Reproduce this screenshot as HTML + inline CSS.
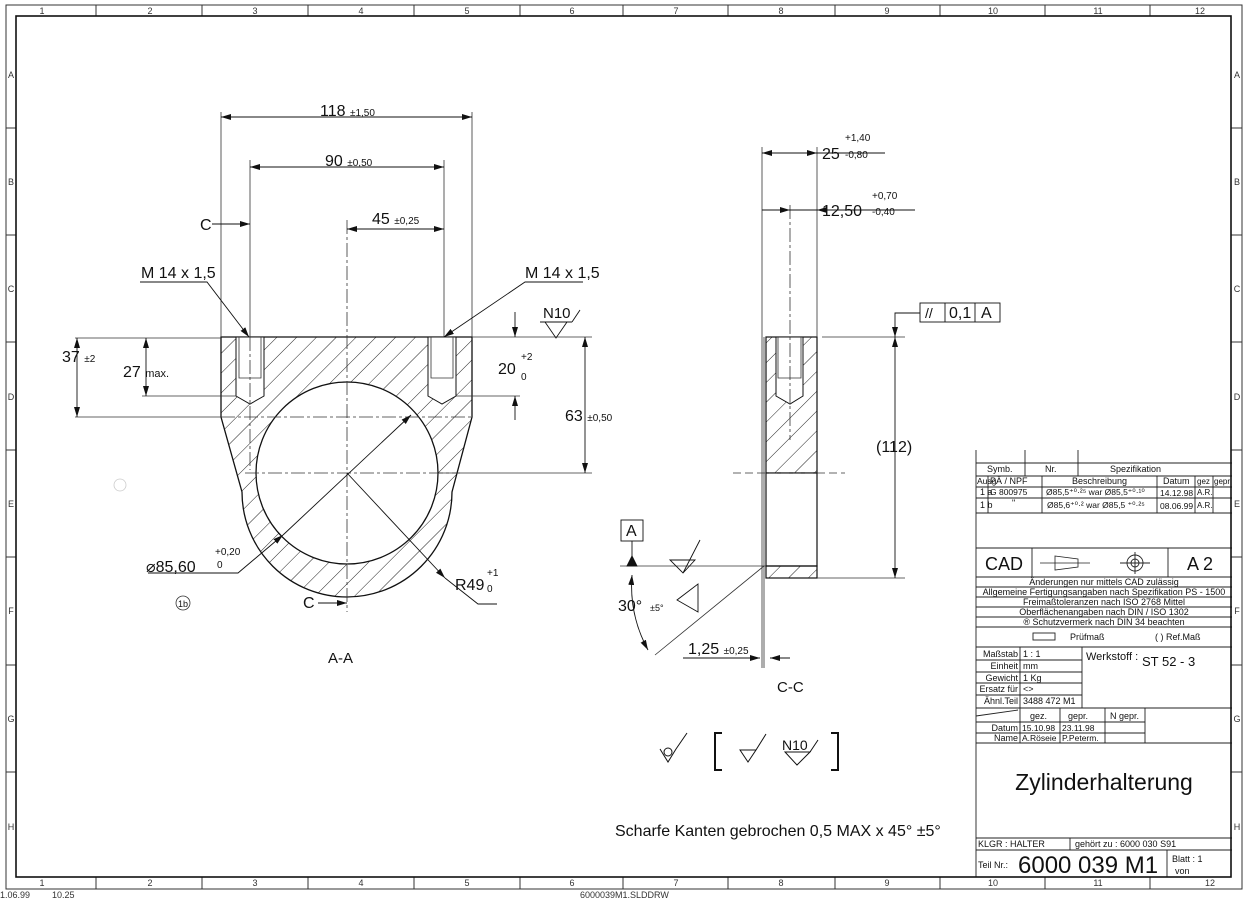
<!DOCTYPE html>
<html><head><meta charset="utf-8"><style>
html,body{margin:0;padding:0;background:#fff;}
svg{display:block;font-family:"Liberation Sans","DejaVu Sans",sans-serif;}
</style></head><body>
<svg width="1250" height="901" viewBox="0 0 1250 901" xmlns="http://www.w3.org/2000/svg">
<defs>
<pattern id="h" patternUnits="userSpaceOnUse" width="14" height="14" patternTransform="rotate(45)">
<line x1="0" y1="0" x2="0" y2="14" stroke="#222" stroke-width="1"/>
</pattern>
<marker id="a" markerWidth="10" markerHeight="6" refX="10" refY="3" orient="auto-start-reverse" markerUnits="userSpaceOnUse"><path d="M0,0 L10,3 L0,6z" fill="#111"/></marker>
</defs>
<g fill="none" stroke="#333" stroke-width="1">
<rect x="6" y="5" width="1236" height="884"/>
<path d="M96 5V16M202 5V16M308 5V16M414 5V16M520 5V16M623 5V16M728 5V16M835 5V16M940 5V16M1045 5V16M1150 5V16"/>
<path d="M96 877V889M202 877V889M308 877V889M414 877V889M520 877V889M623 877V889M728 877V889M835 877V889M940 877V889M1045 877V889M1150 877V889"/>
<path d="M6 128H16M6 235H16M6 342H16M6 450H16M6 557H16M6 665H16M6 772H16"/>
<path d="M1231 128H1242M1231 235H1242M1231 342H1242M1231 450H1242M1231 557H1242M1231 665H1242M1231 772H1242"/>
</g>
<g font-size="9" fill="#333" text-anchor="middle">
<text x="42" y="14">1</text><text x="150" y="14">2</text><text x="255" y="14">3</text><text x="361" y="14">4</text><text x="467" y="14">5</text><text x="572" y="14">6</text><text x="676" y="14">7</text><text x="781" y="14">8</text><text x="887" y="14">9</text><text x="993" y="14">10</text><text x="1098" y="14">11</text><text x="1200" y="14">12</text>
<text x="42" y="886">1</text><text x="150" y="886">2</text><text x="255" y="886">3</text><text x="361" y="886">4</text><text x="467" y="886">5</text><text x="572" y="886">6</text><text x="676" y="886">7</text><text x="781" y="886">8</text><text x="887" y="886">9</text><text x="993" y="886">10</text><text x="1098" y="886">11</text><text x="1210" y="886">12</text>
<text x="11" y="78">A</text><text x="11" y="185">B</text><text x="11" y="292">C</text><text x="11" y="400">D</text><text x="11" y="507">E</text><text x="11" y="614">F</text><text x="11" y="722">G</text><text x="11" y="830">H</text>
<text x="1237" y="78">A</text><text x="1237" y="185">B</text><text x="1237" y="292">C</text><text x="1237" y="400">D</text><text x="1237" y="507">E</text><text x="1237" y="614">F</text><text x="1237" y="722">G</text><text x="1237" y="830">H</text>
</g>
<text x="0" y="898" font-size="9" fill="#333">1.06.99</text><text x="52" y="898" font-size="9" fill="#333">10.25</text>
<text x="580" y="898" font-size="9" fill="#333">6000039M1.SLDDRW</text>

<!-- A-A view -->
<path d="M221 337 H472 V417 L452 492 A105 105 0 0 1 242 492 L221 417 Z" fill="url(#h)" stroke="#111" stroke-width="1.3"/>
<circle cx="347" cy="473" r="91" fill="#fff" stroke="#111" stroke-width="1.3"/>
<g fill="#fff" stroke="#111" stroke-width="1">
<path d="M236 337 V396 L250 404 L264 396 V337 Z"/>
<path d="M428 337 V396 L442 404 L456 396 V337 Z"/>
</g>
<g stroke="#333" stroke-width="0.8" fill="none">
<path d="M239 337V378H261V337M431 337V378H453V337"/>
<path d="M347 220V612" stroke-dasharray="14 3 3 3"/>
<path d="M245 473H460" stroke-dasharray="14 3 3 3"/>
<path d="M221 417H472" stroke-dasharray="14 3 3 3"/>
<path d="M250 337V470" stroke-dasharray="14 3 3 3"/>
<path d="M221 112V337M472 112V337M250 160V337M444 160V337"/>
<path d="M75 338H221M75 417H221M142 396H236M437 473H592M472 337H592M456 396H520"/>
</g>
<g stroke="#111" stroke-width="0.9" fill="none">
<path d="M221 117H472" marker-start="url(#a)" marker-end="url(#a)"/>
<path d="M250 167H444" marker-start="url(#a)" marker-end="url(#a)"/>
<path d="M347 229H444" marker-start="url(#a)" marker-end="url(#a)"/>
<path d="M212 224H250" marker-end="url(#a)"/>
<path d="M77 338V417" marker-start="url(#a)" marker-end="url(#a)"/>
<path d="M146 338V396" marker-start="url(#a)" marker-end="url(#a)"/>
<path d="M585 337V473" marker-start="url(#a)" marker-end="url(#a)"/>
<path d="M515 312V337" marker-end="url(#a)"/>
<path d="M515 420V396" marker-end="url(#a)"/>
<path d="M140 282H207L249 337" marker-end="url(#a)"/>
<path d="M583 282H525L444 337" marker-end="url(#a)"/>
<path d="M148 573H238L283 535" marker-end="url(#a)"/>
<path d="M283 535L411 415" marker-end="url(#a)"/>
<path d="M347 473L445 578" marker-end="url(#a)"/>
<path d="M445 578L478 604H497"/>
<path d="M318 603H347" marker-end="url(#a)"/>
<path d="M540 322H572M572 322L580 310M545 322L556 338L567 322"/>
</g>
<g fill="#111" font-size="16">
<text x="320" y="116">118 <tspan font-size="10">±1,50</tspan></text>
<text x="325" y="166">90 <tspan font-size="10">±0,50</tspan></text>
<text x="372" y="224">45 <tspan font-size="10">±0,25</tspan></text>
<text x="200" y="230">C</text>
<text x="141" y="278">M 14 x 1,5</text>
<text x="525" y="278">M 14 x 1,5</text>
<text x="543" y="318" font-size="15">N10</text>
<text x="62" y="362">37 <tspan font-size="10">±2</tspan></text>
<text x="123" y="377">27 <tspan font-size="11">max.</tspan></text>
<text x="498" y="374">20</text><text x="521" y="360" font-size="10">+2</text><text x="521" y="380" font-size="10">0</text>
<text x="565" y="421">63 <tspan font-size="10">±0,50</tspan></text>
<text x="146" y="572">⌀85,60</text><text x="215" y="555" font-size="10">+0,20</text><text x="217" y="568" font-size="10">0</text>
<text x="455" y="590">R49</text><text x="487" y="576" font-size="10">+1</text><text x="487" y="592" font-size="10">0</text>
<text x="303" y="608">C</text>
<text x="328" y="663" font-size="15">A-A</text>
</g>
<circle cx="183" cy="603" r="7" fill="none" stroke="#333" stroke-width="0.8"/>
<text x="183" y="607" font-size="9" text-anchor="middle" fill="#111">1b</text>
<circle cx="120" cy="485" r="6" fill="none" stroke="#ccc" stroke-width="0.8"/>

<!-- C-C view -->
<rect x="766" y="337" width="51" height="136" fill="url(#h)" stroke="#111" stroke-width="1.2"/>
<rect x="766" y="473" width="51" height="93" fill="#fff" stroke="#111" stroke-width="1.2"/>
<rect x="766" y="566" width="51" height="12" fill="url(#h)" stroke="#111" stroke-width="1.2"/>
<path d="M776 337V396L790 404L803 396V337Z" fill="#fff" stroke="#111"/>
<g stroke="#333" stroke-width="0.8" fill="none">
<path d="M778 337V378H801V337"/>
<path d="M790 205V440" stroke-dasharray="14 3 3 3"/>
<path d="M733 473H845" stroke-dasharray="8 4"/>
<path d="M762 147V668M817 147V337M764 337V668M822 337H905M817 578H905"/>
<path d="M620 566H766M764 566L655 655"/>
</g>
<g stroke="#111" stroke-width="0.9" fill="none">
<path d="M762 153H817" marker-start="url(#a)" marker-end="url(#a)"/><path d="M817 153H885"/>
<path d="M762 210H790" marker-end="url(#a)"/><path d="M790 210H915" /><path d="M830 210H817" marker-end="url(#a)"/>
<path d="M895 337V578" marker-start="url(#a)" marker-end="url(#a)"/>
<path d="M920 313H895V337" marker-end="url(#a)"/>
<rect x="920" y="303" width="80" height="19"/><path d="M945 303V322M975 303V322"/>
<rect x="621" y="520" width="22" height="21"/>
<path d="M632 541V566"/><path d="M627 566L632 556L637 566Z" fill="#111"/>
<path d="M632 575A135 135 0 0 0 648 650" marker-start="url(#a)" marker-end="url(#a)"/>
<path d="M683 658H760" marker-end="url(#a)"/><path d="M790 658H770" marker-end="url(#a)"/>
<path d="M670 560H695L683 573ZM683 573L700 540"/>
<path d="M698 584V612L677 600Z"/>
</g>
<g fill="#111" font-size="16">
<text x="822" y="159">25</text><text x="845" y="141" font-size="10">+1,40</text><text x="845" y="158" font-size="10">-0,80</text>
<text x="822" y="216">12,50</text><text x="872" y="199" font-size="10">+0,70</text><text x="872" y="215" font-size="10">-0,40</text>
<text x="876" y="452">(112)</text>
<text x="925" y="318" font-size="14">//</text><text x="949" y="318">0,1</text><text x="981" y="318">A</text>
<text x="626" y="536">A</text>
<text x="618" y="611">30°</text><text x="650" y="611" font-size="9">±5°</text>
<text x="688" y="654">1,25 <tspan font-size="10">±0,25</tspan></text>
<text x="777" y="692" font-size="15">C-C</text>
</g>

<!-- symbols bottom -->
<g stroke="#111" stroke-width="1" fill="none">
<path d="M660 749L668 762L676 749M676 749L687 733"/><circle cx="668" cy="752" r="4"/>
<path d="M722 733H715V770H722" stroke-width="2"/>
<path d="M740 750L748 762L756 750ZM756 750L766 734"/>
<path d="M785 752H810L797 765ZM810 752L818 740"/>
<path d="M831 733H838V770H831" stroke-width="2"/>
</g>
<text x="782" y="750" font-size="14" fill="#111">N10</text>
<text x="615" y="836" font-size="16" fill="#111">Scharfe Kanten gebrochen 0,5 MAX x 45° ±5°</text>

<!-- title block -->
<rect x="976" y="463" width="255" height="414" fill="#fff" stroke="none"/>
<g stroke="#222" stroke-width="0.9" fill="none">
<path d="M976 450V877M1025 450V476M1078 450V476"/>
<path d="M976 463H1232M976 476H1232M976 487H1232M976 498H1232M976 513H1232M976 548H1232M976 577H1232M976 587H1232M976 597H1232M976 607H1232M976 617H1232M976 627H1232M976 647H1232M976 708H1232M976 743H1232M976 838H1232M976 850H1232"/>
<path d="M976 660H1082M976 672H1082M976 683H1082M976 695H1082M976 722H1145M976 733H1145"/>
<path d="M988 476V513M1042 476V513M1157 476V513M1195 476V513M1213 476V513"/>
<path d="M1032 548V577M1168 548V577M1020 647V708M1082 647V708M1020 708V743M1060 708V743M1105 708V743M1145 708V743M1070 838V850M1167 850V877M976 716L1018 710"/>
<path d="M1040 563H1090M1055 556L1078 559V567L1055 570Z M1060 563H1075" stroke-width="0.8"/>
<circle cx="1135" cy="563" r="8"/><circle cx="1135" cy="563" r="4"/><path d="M1120 563H1150M1135 552V574"/>
<rect x="1033" y="633" width="22" height="7"/>
</g>
<rect x="16" y="16" width="1215" height="861" fill="none" stroke-width="1.6" stroke="#111"/>
<g fill="#111" font-size="9">
<text x="987" y="472">Symb.</text><text x="1045" y="472">Nr.</text><text x="1110" y="472">Spezifikation</text>
<text x="977" y="484" font-size="8.5">Ausg</text><text x="990" y="484">PÄ / NPF</text><text x="1072" y="484">Beschreibung</text><text x="1163" y="484">Datum</text><text x="1197" y="484" font-size="8">gez</text><text x="1214" y="484" font-size="8">gepr</text>
<text x="980" y="495">1 a</text><text x="990" y="495" font-size="8.5">G 800975</text><text x="1046" y="495" font-size="8.5">Ø85,5⁺⁰·²⁵ war Ø85,5⁺⁰·¹⁰</text><text x="1160" y="496" font-size="8.5">14.12.98</text><text x="1197" y="495" font-size="8">A.R.</text>
<text x="980" y="508">1 b</text><text x="1012" y="506">"</text><text x="1047" y="508" font-size="8.5">Ø85,6⁺⁰·² war Ø85,5 ⁺⁰·²⁵</text><text x="1160" y="509" font-size="8.5">08.06.99</text><text x="1197" y="508" font-size="8">A.R.</text>
<text x="985" y="570" font-size="18">CAD</text><text x="1187" y="570" font-size="18">A 2</text>
<g text-anchor="middle"><text x="1104" y="585">Änderungen nur mittels CAD zulässig</text>
<text x="1104" y="595">Allgemeine Fertigungsangaben nach Spezifikation PS - 1500</text>
<text x="1104" y="605">Freimaßtoleranzen nach ISO 2768 Mittel</text>
<text x="1104" y="615">Oberflächenangaben nach DIN / ISO 1302</text>
<text x="1104" y="625">® Schutzvermerk nach DIN 34 beachten</text></g>
<text x="1070" y="640">Prüfmaß</text><text x="1155" y="640">(     ) Ref.Maß</text>
<g text-anchor="end"><text x="1018" y="657">Maßstab</text><text x="1018" y="669">Einheit</text><text x="1018" y="681">Gewicht</text><text x="1018" y="692">Ersatz für</text><text x="1018" y="704">Ähnl.Teil</text><text x="1018" y="731">Datum</text><text x="1018" y="741">Name</text></g>
<text x="1023" y="657">1 : 1</text><text x="1023" y="669">mm</text><text x="1023" y="681">1 Kg</text><text x="1023" y="692">&lt;&gt;</text><text x="1023" y="704">3488 472 M1</text>
<text x="1086" y="660" font-size="11">Werkstoff :</text><text x="1142" y="666" font-size="13">ST 52 - 3</text>
<text x="1030" y="719">gez.</text><text x="1068" y="719">gepr.</text><text x="1110" y="719">N gepr.</text>
<text x="1022" y="731" font-size="8.5">15.10.98</text><text x="1062" y="731" font-size="8.5">23.11.98</text>
<text x="1022" y="741" font-size="8.5">A.Röseie</text><text x="1062" y="741" font-size="8.5">P.Peterm.</text>
<text x="1104" y="790" font-size="23" text-anchor="middle">Zylinderhalterung</text>
<text x="978" y="847">KLGR :  HALTER</text><text x="1075" y="847">gehört zu :  6000 030 S91</text>
<text x="978" y="868">Teil Nr.:</text><text x="1018" y="873" font-size="24">6000 039 M1</text>
<text x="1172" y="862">Blatt :  1</text><text x="1175" y="874">von</text>
</g>
</svg>
</body></html>
